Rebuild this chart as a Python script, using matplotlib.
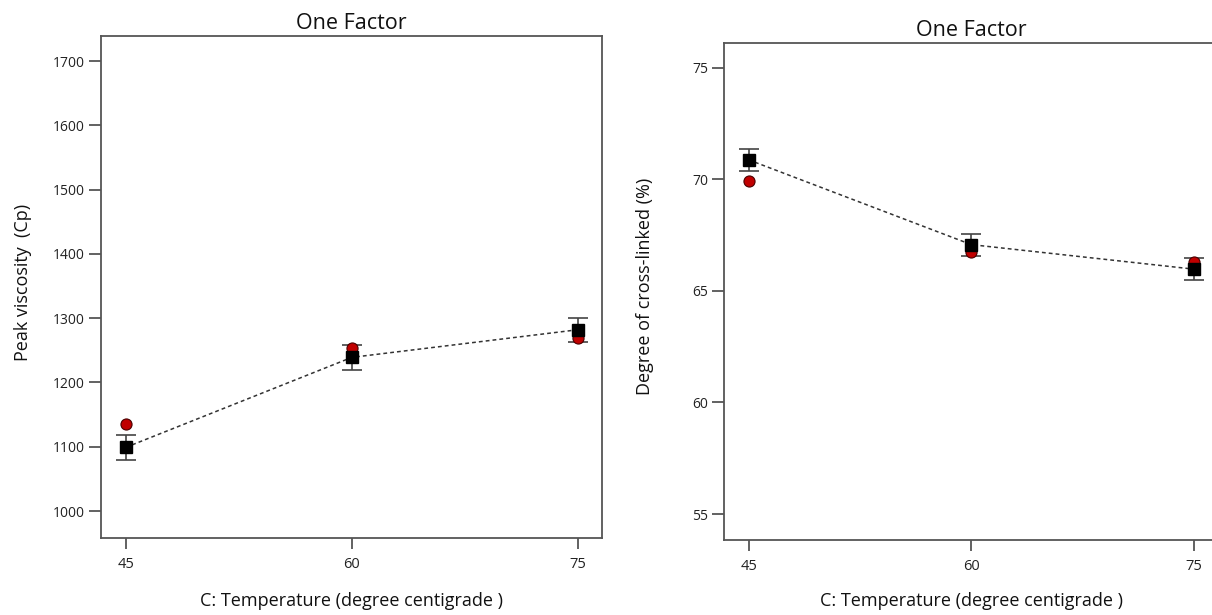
import matplotlib.pyplot as plt

plt.rcParams['font.family'] = ['Open Sans', 'DejaVu Sans']

# factor levels
temps = [45, 60, 75]

# peak viscosity: model prediction, half-width of LSD bars, actual runs
visc_pred = [1099, 1239, 1282]
visc_err = [19, 19, 19]
visc_actual = [1135, 1253, 1269]

# degree of cross-linking
xl_pred = [70.87, 67.07, 65.97]
xl_err = [0.49, 0.49, 0.49]
xl_actual = [69.9, 66.75, 66.3]

XLABEL = "C: Temperature (degree centigrade )"
GREY = "#555555"


def one_factor(ax, pred, err, actual, ylabel, yticks, ylim, ylab_x, xlab_y):
    ax.errorbar(temps, pred, yerr=err, fmt="none", ecolor="#444444",
                elinewidth=1.2, capsize=7, capthick=1.2, zorder=2)
    ax.plot(temps, pred, ls=(0, (2.5, 2)), color="#333333", lw=1.1, zorder=1)
    ax.plot(temps, actual, "o", ms=8, mfc="#c00000", mec="#4a0000",
            mew=0.8, ls="none", zorder=3)
    ax.plot(temps, pred, "s", ms=8.5, color="black", ls="none", zorder=4)

    ax.set_xlim(43.35, 76.6)
    ax.set_ylim(*ylim)
    ax.set_xticks(temps)
    ax.set_yticks(yticks)
    ax.set_title("One Factor", fontsize=15.5, color="#111111", pad=5)
    ax.set_xlabel(XLABEL, fontsize=13, color="#111111")
    ax.set_ylabel(ylabel, fontsize=13, color="#111111")
    ax.xaxis.set_label_coords(0.5, xlab_y)
    ax.yaxis.set_label_coords(ylab_x, 0.51)
    for s in ax.spines.values():
        s.set_color(GREY)
        s.set_linewidth(1.3)
    ax.tick_params(axis="x", length=8, width=1.3, color=GREY, labelsize=10.5,
                   labelcolor="#222222", pad=6)
    ax.tick_params(axis="y", length=8.5, width=1.3, color=GREY, labelsize=10,
                   labelcolor="#222222", pad=3)


fig = plt.figure(figsize=(12.12, 6.15), dpi=100)
ax1 = fig.add_axes([0.0833, 0.1252, 0.4134, 0.8163])
ax2 = fig.add_axes([0.5974, 0.1220, 0.4076, 0.8080])

one_factor(ax1, visc_pred, visc_err, visc_actual, "Peak viscosity  (Cp)",
           range(1000, 1701, 100), (958, 1739), -0.138, -0.108)
one_factor(ax2, xl_pred, xl_err, xl_actual, "Degree of cross-linked (%)",
           range(55, 76, 5), (53.84, 76.1), -0.142, -0.105)

fig.savefig("out.png", dpi=100)
